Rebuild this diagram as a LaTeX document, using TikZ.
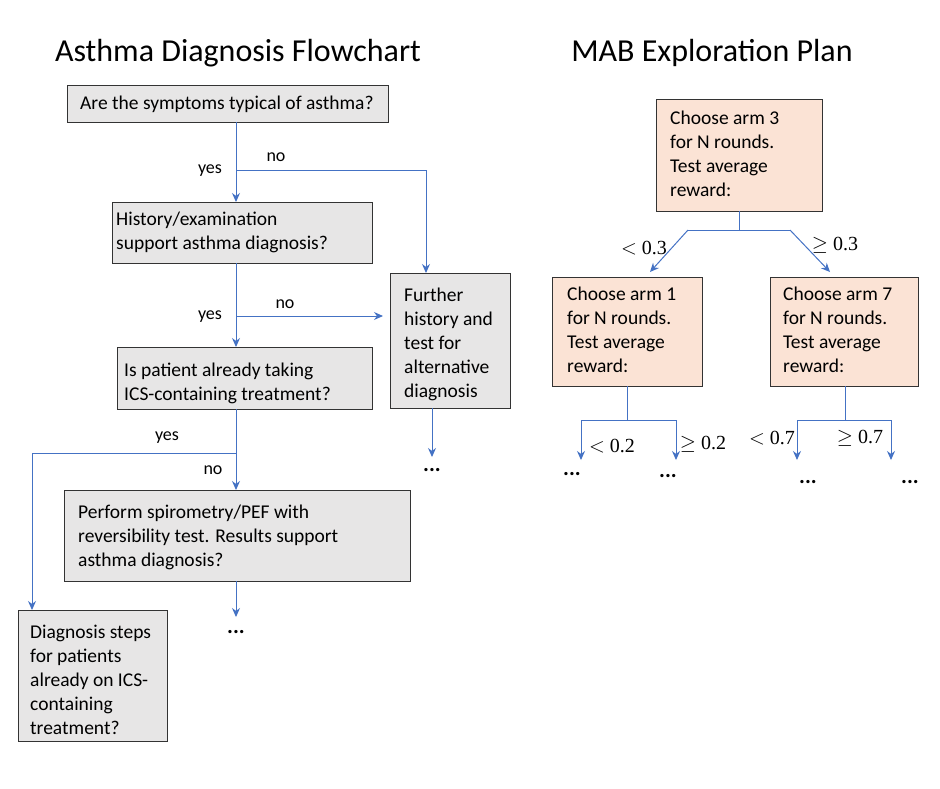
\documentclass[tikz,border=0pt]{standalone}
\usepackage{fontspec}
\setmainfont{Carlito}
\newfontfamily\mathf{Liberation Serif}
\usetikzlibrary{arrows.meta}
\definecolor{ln}{HTML}{4472C4}
\definecolor{gf}{HTML}{E7E6E6}
\definecolor{pf}{HTML}{FBE3D5}
\tikzset{
 gbox/.style={draw=black!80,fill=gf,line width=1pt,anchor=north west,inner sep=0pt},
 pbox/.style={draw=black!80,fill=pf,line width=1pt,anchor=north west,inner sep=0pt},
 txt/.style={anchor=north west,align=left,inner sep=0pt,font=\fontsize{19.5}{24}\selectfont},
 con/.style={ln,line width=1pt},
 arr/.style={con,-{Stealth[length=9pt,width=8pt]}},
 lab/.style={font=\fontsize{18}{20}\selectfont},
 mlab/.style={font=\mathf\fontsize{20}{22}\selectfont},
 dots/.style={font=\fontsize{22}{22}\selectfont\bfseries}
}
\begin{document}
\begin{tikzpicture}[x=1pt,y=-1pt]
\useasboundingbox (0,0) rectangle (940,788);
\node[font=\fontsize{32}{36}\selectfont] (t1) at (238,53) {Asthma Diagnosis Flowchart};
\node[font=\fontsize{32}{36}\selectfont] (t2) at (712,53) {MAB Exploration Plan};
% left boxes
\node[gbox,minimum width=321pt,minimum height=37pt] (q1) at (67,85) {};
\node[txt] (q1t) at (80,96) {Are the symptoms typical of asthma?};
\node[gbox,minimum width=260pt,minimum height=61pt] (q2) at (112,202) {};
\node[txt] (q2t) at (116,212) {History/examination\\support asthma diagnosis?};
\node[gbox,minimum width=255pt,minimum height=62pt] (q3) at (117,347) {};
\node[txt] (q3t) at (124,363) {Is patient already taking\\ICS-containing treatment?};
\node[gbox,minimum width=120pt,minimum height=135pt] (fu) at (390,273) {};
\node[txt] (fut) at (404,288) {Further\\history and\\test for\\alternative\\diagnosis};
\node[gbox,minimum width=346pt,minimum height=91pt] (q4) at (64,490) {};
\node[txt] (q4t) at (78,505) {Perform spirometry/PEF with\\reversibility test. Results support\\asthma diagnosis?};
\node[gbox,minimum width=149pt,minimum height=131pt] (dg) at (18,610) {};
\node[txt] (dgt) at (30,625) {Diagnosis steps\\for patients\\already on ICS-\\containing\\treatment?};
% connectors left
\coordinate (b1) at (236,170);
\draw[arr] (236,122) -- (236,202);
\draw[arr] (b1) -- (426,170) -- (426,273);
\node[lab] (y1) at (210,171) {yes};
\node[lab] (n1) at (276,157) {no};
\coordinate (b2) at (236,316);
\draw[arr] (236,263) -- (236,347);
\draw[arr] (b2) -- (383,316);
\node[lab] (y2) at (210,317) {yes};
\node[lab] (n2) at (285,304) {no};
\coordinate (b3) at (236,453);
\draw[arr] (236,409) -- (236,490);
\draw[arr] (b3) -- (32,453) -- (32,610);
\node[lab] (y3) at (167,438) {yes};
\node[lab] (n3) at (213,470) {no};
\draw[arr] (432,408) -- (432,457);
\node[dots] (d1) at (432,470) {...};
\draw[arr] (236,581) -- (236,617);
\node[dots] (d2) at (236,632) {...};
% right boxes
\node[pbox,minimum width=166pt,minimum height=112pt] (a) at (656,99) {};
\node[txt] (at) at (670,111) {Choose arm 3\\for N rounds.\\Test average\\reward:};
\node[pbox,minimum width=150pt,minimum height=109pt] (b) at (552,277) {};
\node[txt] (bt) at (567,287) {Choose arm 1\\for N rounds.\\Test average\\reward:};
\node[pbox,minimum width=148pt,minimum height=109pt] (c) at (770,277) {};
\node[txt] (ct) at (783,287) {Choose arm 7\\for N rounds.\\Test average\\reward:};
\draw[con] (739,211) -- (739,230);
\draw[con] (688,230) -- (790,230);
\draw[arr] (688,230) -- (650,272);
\draw[arr] (790,230) -- (830,272);
\node[mlab] (l1) at (644,248) {$<$ 0.3};
\node[mlab] (l2) at (835,245) {$\geq$ 0.3};
\draw[con] (627,386) -- (627,420);
\draw[con] (581,420) -- (676,420);
\draw[arr] (581,420) -- (581,460);
\draw[arr] (676,420) -- (676,460);
\node[mlab] (l3) at (612,446) {$<$ 0.2};
\node[mlab] (l4) at (703,444) {$\geq$ 0.2};
\node[dots] (d3) at (572,474) {...};
\node[dots] (d4) at (668,476) {...};
\draw[con] (845,386) -- (845,420);
\draw[con] (797,420) -- (891,420);
\draw[arr] (797,420) -- (797,460);
\draw[arr] (891,420) -- (891,460);
\node[mlab] (l5) at (772,438) {$<$ 0.7};
\node[mlab] (l6) at (860,438) {$\geq$ 0.7};
\node[dots] (d5) at (808,482) {...};
\node[dots] (d6) at (910,482) {...};
\end{tikzpicture}
\end{document}
